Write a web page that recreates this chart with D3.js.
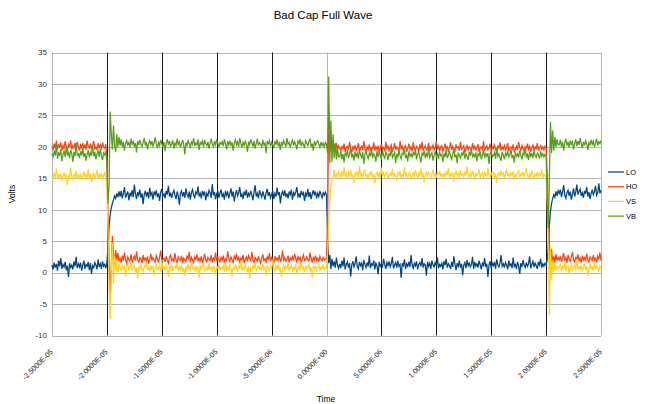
<!DOCTYPE html>
<html>
<head>
<meta charset="utf-8">
<script src="https://cdn.jsdelivr.net/npm/d3@7"></script>
<style>
  html, body { margin: 0; padding: 0; background: #fff; }
  svg { display: block; font-family: "Liberation Sans", Arial, sans-serif; }
</style>
</head>
<body>
<svg id="chart" width="647" height="404"></svg>
<script>
// Sampling grid of the capture (seconds)
const tStart = -25e-6;
const tStep = 0.1e-6;

// Channel voltages, one sample per tStep
const LO = [
  1.2, 0.5, 1.6, 0.8, 1.4, 0.3, 1.9, 1.0, 2.3, 0.6,
  1.3, 0.9, 1.7, 0.4, 1.1, -0.7, 1.5, 0.8, 1.2, 0.5,
  1.8, 1.0, 2.5, 0.7, 1.4, 0.9, 1.6, 0.3, 1.2, 1.9,
  0.6, 1.3, 1.0, 1.7, 0.4, 1.5, -0.2, 1.1, 0.8, 1.6,
  1.2, 0.5, 2.1, 0.9, 1.4, 0.6, 1.8, 1.0, 1.3, 0.7,
  1.5, 4.0, 7.5, 9.2, 10.3, 11.0, 11.6, 12.2, 11.8, 12.6, 12.0, 12.9,
  12.1, 13.0, 11.8, 12.6, 13.6, 11.9, 12.4, 12.9, 11.5, 12.7,
  12.2, 13.1, 12.0, 14.0, 12.5, 11.7, 12.8, 12.3, 13.2, 11.9,
  12.6, 10.9, 12.4, 13.0, 12.1, 12.8, 11.8, 13.5, 12.3, 12.7,
  11.6, 12.9, 12.4, 13.1, 12.0, 12.6, 11.4, 12.8, 13.3, 12.2,
  12.5, 11.8, 13.0, 12.4, 13.8, 12.1, 12.7, 11.9, 12.6, 13.1,
  12.3, 11.7, 12.9, 12.2, 10.8, 12.6, 13.0, 12.1, 12.8, 11.9,
  13.4, 12.4, 12.0, 12.9, 11.6, 12.7, 13.2, 12.3, 11.9, 12.8,
  12.5, 13.7, 12.1, 12.6, 11.8, 13.0, 12.4, 12.9, 11.5, 12.6,
  12.2, 13.1, 12.7, 11.9, 14.1, 12.3, 12.8, 11.7, 12.5, 13.0,
  11.9, 12.7, 13.2, 12.0, 12.5, 11.6, 13.0, 12.3, 12.8, 11.8,
  12.6, 13.4, 12.1, 12.9, 11.3, 12.4, 13.1, 12.2, 12.7, 13.6,
  12.0, 12.5, 11.7, 12.9, 12.3, 13.2, 11.9, 12.6, 12.2, 13.0,
  12.4, 11.5, 12.8, 13.9, 12.1, 12.6, 11.8, 13.1, 12.5, 12.0,
  12.9, 12.3, 11.6, 12.7, 13.3, 12.2, 12.8, 11.9, 12.4, 13.0,
  11.7, 12.6, 12.1, 13.5, 12.3, 12.8, 11.0, 12.5, 12.9, 12.2,
  13.1, 12.0, 12.6, 11.8, 12.9, 12.4, 13.2, 11.6, 12.7, 12.3,
  12.8, 13.6, 12.1, 12.5, 11.9, 13.0, 12.4, 12.7, 11.4, 12.6,
  12.2, 13.3, 12.0, 12.8, 11.7, 12.5, 13.1, 12.3, 12.9, 11.8,
  12.6, 12.1, 13.0, 12.4, 11.9, 12.7, 12.3, 12.8,
  12.4, 6.0, 1.5, 2.8, 0.6, 2.2, 1.0, 1.8, 0.8, 2.4, 1.2, 0.7,
  1.4, 0.7, 1.9, 1.0, 2.4, 0.5, 1.3, 1.7, 0.8, 1.5,
  -0.6, 1.2, 1.8, 0.9, 1.4, 2.6, 1.0, 0.6, 1.7, 1.1,
  1.5, 0.4, 2.0, 1.3, 0.8, 1.6, 1.0, 2.7, 0.7, 1.4,
  1.2, 1.9, 0.5, 1.5, 1.1, -0.3, 1.7, 1.0, 1.4, 0.8,
  2.2, 1.3, 0.6, 1.6, 1.1, 1.8, 0.9, 1.4, 2.5, 0.7,
  1.2, 1.6, 0.8, 1.9, 1.0, 1.3, -0.8, 1.5, 1.1, 2.1,
  0.6, 1.4, 1.0, 1.7, 0.9, 2.8, 1.2, 0.7, 1.5, 1.1,
  1.8, 0.5, 1.3, 1.6, 1.0, 2.3, 0.8, 1.4, 1.2, -0.5,
  1.7, 1.0, 1.5, 0.6, 1.9, 1.2, 0.9, 1.6, 1.1, 2.4,
  0.7, 1.3, 1.0, 1.5, 0.5, 1.8, 1.2, 2.2, 0.8, 1.4,
  1.1, 0.6, 1.7, 0.9, 2.6, 1.3, 0.4, 1.5, 1.0, 1.9,
  0.8, 1.4, -0.4, 1.2, 1.6, 0.7, 2.0, 1.1, 1.5, 0.9,
  1.3, 2.5, 0.6, 1.7, 1.0, 1.4, 0.8, 1.9, 1.2, 0.5,
  1.6, 1.0, 2.3, 0.9, 1.4, -0.7, 1.2, 1.8, 0.7, 1.5,
  1.1, 1.7, 0.6, 2.1, 1.3, 0.9, 1.5, 2.8, 1.0, 1.4,
  0.8, 1.6, 1.2, 0.5, 1.9, 1.1, 1.4, 0.7, 2.4, 1.0,
  1.3, 0.6, 1.7, 1.1, -0.2, 1.5, 0.9, 2.0, 1.2, 0.8,
  1.6, 1.0, 1.4, 2.6, 0.7, 1.3, 1.8, 0.9, 1.5, 1.1,
  0.6, 1.7, 1.2, 2.2, 0.8, 1.4, 1.0, 1.5,
  1.2, 2.0, 4.5, 7.5, 9.8, 11.0, 11.8, 12.4, 12.0, 12.9, 12.2, 13.0,
  12.6, 13.2, 12.0, 12.8, 13.9, 12.3, 11.8, 12.7, 13.1, 12.2,
  12.9, 11.6, 12.5, 13.4, 12.1, 12.8, 14.0, 12.4, 12.9, 13.3,
  12.2, 12.7, 11.9, 13.0, 12.5, 13.6, 12.1, 12.8, 11.7, 12.6,
  13.2, 12.4, 12.9, 13.8, 12.3, 12.7, 14.2, 12.6, 13.1
];

const HO = [
  20.1, 19.5, 20.5, 19.8, 21.0, 19.6, 20.3, 20.0, 20.7, 19.4,
  20.2, 19.7, 20.9, 20.0, 19.5, 20.4, 19.9, 21.0, 19.6, 20.2,
  19.8, 20.6, 19.5, 20.8, 20.0, 19.4, 20.3, 19.9, 20.6, 19.7,
  20.4, 19.5, 21.0, 20.1, 19.8, 20.5, 19.6, 20.2, 20.9, 19.7,
  20.0, 19.5, 20.6, 19.9, 20.3, 19.6, 20.7, 20.0, 19.8, 20.4,
  18.0, 9.0, 2.0, -3.8, 1.0, 5.8, 3.0, 1.2, 3.6, 2.0, 3.1, 1.8,
  2.3, 1.6, 2.7, 1.9, 3.2, 2.0, 1.5, 2.5, 2.1, 1.8,
  2.9, 1.6, 2.2, 2.6, 1.9, 3.4, 2.0, 1.7, 2.4, 2.2,
  1.5, 2.8, 2.0, 2.3, 1.8, 2.6, 1.4, 2.1, 3.0, 1.9,
  2.4, 2.0, 1.7, 2.7, 2.2, 1.6, 2.5, 3.5, 1.9, 2.1,
  2.3, 1.7, 2.6, 2.0, 1.5, 2.4, 2.8, 1.9, 2.2, 1.8,
  3.1, 2.0, 1.6, 2.5, 2.1, 1.9, 2.7, 1.5, 2.3, 2.0,
  1.8, 2.6, 2.2, 3.3, 1.7, 2.4, 2.0, 1.6, 2.5, 2.1,
  2.9, 1.8, 2.3, 1.9, 2.6, 1.5, 2.2, 3.0, 2.0, 1.7,
  2.4, 2.1, 1.9, 2.8, 1.6, 2.3, 2.0, 3.2, 1.8, 2.5,
  2.1, 1.7, 2.4, 2.0, 2.7, 1.6, 2.2, 1.9, 3.4, 2.3,
  1.8, 2.5, 2.0, 1.6, 2.6, 2.2, 3.0, 1.9, 2.4, 1.7,
  2.3, 2.0, 2.8, 1.5, 2.1, 2.5, 1.8, 2.7, 2.2, 1.9,
  3.3, 2.0, 1.6, 2.4, 2.1, 1.8, 2.6, 2.0, 1.5, 2.3,
  2.9, 1.9, 2.2, 1.7, 2.5, 2.0, 3.1, 1.8, 2.4, 2.1,
  1.6, 2.6, 2.0, 2.3, 1.9, 2.8, 1.7, 2.2, 3.5, 2.0,
  2.4, 1.8, 2.1, 2.7, 1.6, 2.3, 2.0, 2.5, 1.9, 3.0,
  2.2, 1.7, 2.6, 2.0, 2.4, 1.5, 2.3, 2.8, 1.9, 2.1,
  2.5, 2.0, 1.8, 3.2, 2.2, 1.6, 2.4, 2.0, 2.7, 1.9,
  2.3, 1.7, 2.6, 2.1, 1.9, 2.4, 2.0, 2.2,
  2.2, 8.0, 26.0, 22.0, 19.3, 21.0, 19.6, 20.4, 19.2, 20.6, 19.5, 20.2,
  19.8, 19.3, 20.2, 19.6, 20.5, 19.2, 19.9, 20.1, 19.5, 20.8,
  19.7, 19.1, 20.0, 19.6, 20.3, 19.4, 19.9, 20.6, 19.3, 19.8,
  20.1, 19.5, 20.9, 19.7, 19.2, 20.0, 19.6, 20.4, 19.3, 19.9,
  19.7, 20.7, 19.4, 20.0, 19.5, 20.2, 19.1, 19.8, 20.5, 19.6,
  19.9, 19.3, 20.8, 19.7, 20.1, 19.4, 19.9, 20.3, 19.2, 19.8,
  20.6, 19.5, 20.0, 19.7, 19.3, 20.9, 19.6, 20.1, 19.4, 19.9,
  20.2, 19.2, 19.8, 20.5, 19.6, 20.0, 19.3, 20.7, 19.7, 19.5,
  20.1, 19.8, 19.2, 20.4, 19.6, 20.8, 19.4, 19.9, 20.2, 19.5,
  19.7, 20.6, 19.3, 20.0, 19.8, 20.3, 19.5, 19.9, 20.9, 19.6,
  20.1, 19.4, 20.0, 20.2, 19.3, 19.8, 20.5, 19.6, 20.0, 19.2,
  19.9, 20.7, 19.5, 20.1, 19.7, 19.3, 20.4, 19.8, 20.0, 19.4,
  20.8, 19.6, 19.9, 20.2, 19.1, 19.7, 20.3, 19.5, 20.0, 19.8,
  19.3, 20.6, 19.7, 20.1, 19.5, 19.9, 20.4, 19.2, 19.8, 20.0,
  19.6, 20.9, 19.4, 19.9, 20.2, 19.5, 19.8, 20.5, 19.3, 20.0,
  19.7, 20.3, 19.6, 19.2, 20.1, 19.8, 20.7, 19.4, 20.0, 19.6,
  20.2, 19.5, 19.9, 20.6, 19.3, 19.8, 20.0, 19.6, 20.4, 19.1,
  19.7, 20.1, 19.5, 20.8, 19.9, 19.4, 20.2, 19.7, 19.3, 20.0,
  19.8, 20.5, 19.6, 20.1, 19.2, 19.9, 20.3, 19.5, 20.0, 19.7,
  20.6, 19.4, 19.9, 20.2, 19.6, 20.0, 19.5, 20.1,
  19.8, 16.0, 9.0, 4.6, 0.4, 3.8, 1.4, 2.6, 1.6, 3.0, 1.9, 2.4,
  2.0, 2.6, 1.7, 2.3, 3.1, 1.9, 2.4, 1.6, 2.8, 2.1,
  1.8, 2.5, 3.3, 2.0, 1.7, 2.4, 2.2, 2.9, 1.9, 2.3,
  1.6, 2.7, 2.0, 2.4, 1.8, 3.0, 2.1, 1.7, 2.5, 2.2,
  1.9, 2.8, 2.0, 2.3, 1.6, 2.6, 2.1, 3.2, 1.9
];

const VS = [
  15.4, 14.8, 15.9, 15.1, 16.6, 14.9, 15.5, 15.2, 15.8, 14.6,
  15.3, 16.0, 14.9, 15.6, 13.9, 15.4, 15.0, 16.7, 15.2, 14.8,
  15.7, 15.1, 16.2, 14.9, 15.5, 15.0, 15.8, 14.7, 15.4, 16.1,
  15.2, 15.6, 14.8, 16.5, 15.1, 15.7, 14.4, 15.3, 15.9, 15.0,
  15.5, 16.3, 14.9, 15.6, 15.2, 15.8, 14.7, 15.4, 16.0, 15.1,
  14.0, 6.0, -2.0, -7.4, 0.5, 4.8, -1.8, 2.6, 0.2, 2.0, -0.3, 1.4,
  0.9, 0.2, 1.3, 0.5, 1.1, -0.6, 0.8, 1.4, 0.3, 0.9,
  1.9, 0.4, 0.7, 1.2, 0.1, 0.8, -0.9, 1.0, 0.5, 1.3,
  0.6, 0.2, 1.1, 0.8, 1.7, 0.4, 0.9, 0.1, 1.2, 0.6,
  1.0, -0.4, 0.7, 1.4, 0.3, 0.8, 1.1, 0.2, 2.0, 0.6,
  0.9, 0.4, 1.2, 0.7, -0.7, 1.0, 0.5, 1.3, 0.2, 0.8,
  1.1, 0.6, 1.6, 0.3, 0.9, 0.5, 1.2, 0.1, 0.8, -0.5,
  1.0, 0.4, 1.3, 0.7, 0.2, 1.8, 0.6, 0.9, 0.3, 1.1,
  0.5, 0.8, -0.8, 1.2, 0.4, 0.9, 1.4, 0.2, 0.7, 1.0,
  0.3, 1.5, 0.6, 0.8, 0.1, 1.2, 0.5, -0.3, 0.9, 0.7,
  1.3, 0.4, 0.8, 0.6, 1.1, 0.2, 1.7, 0.5, 0.9, 0.3,
  1.2, 0.7, -0.6, 1.0, 0.4, 1.4, 0.8, 0.2, 1.1, 0.6,
  1.9, 0.3, 0.9, 0.5, 1.2, 0.7, 0.1, 1.0, -0.9, 0.8,
  0.4, 1.3, 0.6, 1.6, 0.2, 0.9, 1.1, 0.5, 0.8, 0.3,
  1.4, 0.6, 0.9, -0.4, 1.2, 0.7, 0.3, 1.0, 0.5, 2.0,
  0.8, 0.2, 1.1, 0.6, 1.3, 0.4, 0.9, -0.7, 0.7, 1.2,
  0.3, 1.0, 0.6, 1.5, 0.2, 0.8, 1.1, 0.4, 0.9, 0.5,
  1.3, -0.2, 0.7, 1.0, 0.3, 1.7, 0.6, 0.9, 0.1, 1.2,
  0.5, 0.8, 1.4, 0.2, 0.9, -0.8, 1.1, 0.6, 1.0, 0.4,
  0.8, 1.2, 0.3, 0.9, 0.6, 1.3, 0.5, 0.8,
  0.8, 3.0, 8.0, 11.5, 13.6, 14.6, 15.0, 16.4, 14.9, 15.8, 15.2, 16.1,
  15.6, 15.0, 16.1, 15.3, 16.8, 15.2, 15.7, 14.9, 15.9, 15.4,
  16.3, 15.1, 15.6, 14.3, 15.8, 15.5, 16.0, 15.2, 16.9, 15.4,
  15.7, 15.0, 15.9, 16.4, 15.3, 15.6, 14.8, 15.8, 15.5, 16.2,
  15.1, 15.7, 14.2, 15.6, 16.0, 15.3, 15.8, 15.0, 16.7, 15.4,
  15.9, 15.2, 15.6, 16.1, 14.9, 15.5, 15.8, 15.3, 16.5, 15.1,
  15.7, 15.4, 14.6, 15.9, 15.5, 16.2, 15.0, 15.6, 15.3, 16.8,
  15.4, 15.8, 15.1, 15.7, 16.0, 14.8, 15.5, 15.9, 15.2, 16.3,
  15.6, 15.0, 15.8, 15.4, 16.6, 15.3, 15.7, 14.4, 15.6, 15.9,
  15.2, 16.1, 15.5, 15.0, 15.8, 16.4, 15.3, 15.7, 15.1, 15.9,
  15.6, 16.2, 15.4, 15.7, 14.9, 15.8, 15.2, 16.0, 15.5, 16.6,
  15.1, 15.7, 15.3, 15.9, 14.5, 15.6, 16.1, 15.4, 15.8, 15.0,
  16.3, 15.5, 15.7, 15.2, 16.0, 15.4, 16.9, 15.6, 15.1, 15.8,
  15.3, 16.2, 15.5, 14.7, 15.9, 15.4, 15.7, 16.4, 15.2, 15.6,
  15.9, 15.0, 16.1, 15.5, 15.3, 16.7, 15.6, 15.2, 15.8, 15.4,
  16.0, 15.1, 15.7, 14.3, 15.6, 15.9, 15.3, 16.2, 15.5, 15.8,
  15.0, 15.6, 16.5, 15.4, 15.7, 15.2, 15.9, 15.5, 16.1, 14.8,
  15.6, 15.3, 15.8, 16.3, 15.1, 15.7, 15.4, 16.0, 15.2, 15.9,
  16.6, 15.5, 15.0, 15.8, 15.3, 16.1, 15.6, 14.9, 15.7, 15.4,
  16.0, 15.2, 15.8, 15.5, 16.4, 15.1, 15.6, 15.3,
  15.4, 11.0, 4.0, -6.8, 4.0, -1.2, 2.0, 0.1, 1.6, 0.3, 1.2, 0.6,
  0.8, 1.3, 0.3, 1.0, 0.5, 1.7, 0.2, 0.9, 1.2, -0.2,
  0.7, 1.4, 0.4, 0.8, 1.1, 0.3, 1.9, 0.6, 0.9, 0.5,
  1.2, 0.2, 0.8, 1.5, 0.4, 1.0, -0.5, 0.7, 1.3, 0.6,
  0.9, 0.3, 1.6, 0.5, 1.1, 0.8, 0.2, 1.0, 0.6
];

const VB = [
  18.9, 18.3, 19.4, 18.6, 20.5, 18.1, 19.0, 18.7, 19.6, 17.7,
  18.8, 19.3, 18.4, 20.1, 18.6, 19.1, 18.2, 19.5, 18.9, 17.6,
  19.2, 18.5, 20.6, 18.7, 18.9, 18.2, 19.3, 18.6, 19.8, 18.4,
  19.0, 17.8, 18.8, 19.5, 18.3, 19.1, 18.6, 20.3, 18.5, 19.2,
  18.0, 18.9, 19.4, 18.4, 19.7, 18.6, 17.9, 19.0, 18.7, 19.3,
  17.5, 11.0, 14.0, 25.6, 22.0, 19.6, 23.4, 20.2, 19.2, 22.0, 20.0, 21.6,
  20.2, 21.2, 20.0, 20.8, 19.4, 20.6, 21.0, 20.3, 20.7, 19.9,
  21.3, 20.4, 20.8, 20.1, 20.6, 19.1, 20.9, 20.3, 21.1, 20.5,
  20.0, 20.7, 21.4, 20.2, 20.8, 19.6, 20.5, 21.0, 20.3, 20.9,
  20.1, 20.6, 21.5, 20.4, 19.8, 20.7, 20.2, 21.1, 20.5, 20.0,
  20.8, 19.3, 20.6, 21.2, 20.3, 20.9, 20.1, 20.5, 21.0, 19.7,
  20.6, 20.2, 21.3, 20.4, 20.8, 19.9, 20.5, 21.1, 20.3, 18.8,
  20.7, 20.2, 21.0, 20.5, 19.8, 20.9, 20.4, 21.4, 20.1, 20.6,
  20.3, 21.2, 19.5, 20.7, 20.4, 20.9, 20.0, 21.1, 20.5, 20.2,
  20.8, 19.7, 20.6, 21.3, 20.4, 20.0, 20.9, 20.3, 21.0, 20.6,
  19.9, 20.7, 20.4, 20.8, 20.1, 21.2, 20.5, 19.6, 20.9, 20.3,
  21.0, 20.2, 20.7, 19.4, 20.6, 21.1, 20.3, 20.8, 20.0, 21.4,
  20.5, 19.9, 20.7, 20.2, 21.0, 20.4, 19.2, 20.8, 20.3, 21.2,
  20.6, 20.1, 20.9, 19.7, 20.5, 21.3, 20.2, 20.7, 20.4, 20.0,
  21.1, 20.3, 20.6, 19.0, 20.8, 20.5, 21.0, 20.1, 20.7, 20.3,
  19.8, 20.9, 20.4, 21.2, 20.2, 20.6, 19.5, 20.8, 20.3, 21.0,
  20.5, 20.0, 21.4, 20.4, 20.7, 19.9, 20.6, 21.1, 20.2, 20.8,
  20.3, 19.6, 20.9, 20.5, 21.2, 20.1, 20.7, 20.4, 19.8, 21.0,
  20.6, 20.2, 20.8, 21.3, 20.0, 20.5, 19.4, 20.9, 20.3, 20.7,
  21.0, 20.4, 19.9, 20.8, 20.2, 20.6, 20.0, 20.7,
  20.4, 19.0, 31.2, 17.4, 24.2, 17.6, 22.0, 18.2, 20.6, 18.0, 19.8, 18.4,
  18.4, 19.3, 18.0, 18.9, 17.5, 19.1, 18.6, 19.5, 18.2, 18.8,
  19.7, 18.3, 18.9, 17.8, 19.2, 18.5, 19.0, 18.1, 19.6, 18.7,
  18.3, 19.2, 17.3, 18.8, 19.4, 18.6, 18.1, 19.0, 18.5, 19.8,
  18.2, 18.9, 18.6, 17.6, 19.3, 18.4, 19.1, 18.7, 18.0, 19.5,
  18.6, 18.2, 19.2, 18.8, 17.9, 19.0, 18.5, 19.9, 18.3, 18.7,
  19.1, 17.4, 18.9, 18.4, 19.4, 18.6, 18.1, 19.0, 18.8, 19.6,
  18.2, 18.7, 17.7, 19.3, 18.5, 18.9, 18.3, 19.1, 18.6, 19.7,
  18.0, 18.8, 19.2, 18.4, 17.5, 19.0, 18.7, 19.4, 18.2, 18.9,
  18.5, 19.8, 18.3, 18.7, 19.1, 17.8, 18.6, 19.3, 18.4, 18.9,
  18.1, 19.2, 18.6, 18.8, 17.6, 19.0, 18.4, 19.5, 18.2, 18.7,
  19.3, 18.5, 18.0, 18.9, 19.6, 18.3, 18.8, 17.4, 19.1, 18.6,
  18.2, 19.0, 18.7, 19.4, 18.1, 18.9, 18.5, 17.9, 19.2, 18.6,
  19.7, 18.3, 18.8, 18.4, 19.1, 17.7, 18.9, 18.6, 19.3, 18.0,
  18.7, 19.5, 18.2, 18.9, 18.5, 19.0, 17.3, 18.8, 19.4, 18.4,
  18.6, 19.1, 18.1, 19.8, 18.5, 18.9, 18.3, 17.8, 19.2, 18.7,
  18.0, 19.0, 18.6, 19.3, 18.4, 18.8, 19.6, 18.2, 18.7, 17.5,
  19.1, 18.5, 18.9, 18.3, 19.4, 18.6, 18.1, 19.0, 18.7, 19.7,
  18.4, 18.8, 17.9, 19.2, 18.5, 18.9, 18.2, 19.5, 18.6, 18.3,
  19.0, 18.7, 18.1, 19.3, 18.5, 18.9, 18.4, 18.8,
  18.6, 12.0, 7.0, 15.0, 24.0, 19.0, 22.6, 19.4, 21.6, 20.0, 21.2, 20.3,
  20.3, 21.1, 20.0, 20.8, 19.4, 20.6, 21.3, 20.2, 20.7, 19.9,
  21.0, 20.4, 20.8, 19.6, 20.5, 21.2, 20.1, 20.9, 20.3, 21.4,
  20.6, 19.8, 20.8, 20.2, 21.0, 20.5, 19.5, 20.7, 20.3, 21.1,
  20.4, 20.9, 20.0, 20.6, 21.3, 20.2, 20.8, 20.5, 21.0
];

const seriesNames = ["LO", "HO", "VS", "VB"];
const seriesValues = [LO, HO, VS, VB];
const seriesColors = ["#004586", "#ff420e", "#ffd320", "#579d1c"];

const xTickValues = [-2.5e-5, -2.0e-5, -1.5e-5, -1.0e-5, -5.0e-6, 0, 5.0e-6, 1.0e-5, 1.5e-5, 2.0e-5, 2.5e-5];
const yTickValues = [-10, -5, 0, 5, 10, 15, 20, 25, 30, 35];

const titleText = "Bad Cap Full Wave";
const xTitle = "Time";
const yTitle = "Volts";

// ---- layout ----
const svg = d3.select("#chart");
const plot = { left: 52, right: 601, top: 52.5, bottom: 335.5 };

const x = d3.scaleLinear().domain([-2.5e-5, 2.5e-5]).range([plot.left, plot.right]);
const y = d3.scaleLinear().domain([-10, 35]).range([plot.bottom, plot.top]);

// Scientific label, e.g. -2.5000E-05
const sci = v => {
  const s = v.toExponential(4).toUpperCase();
  return s.replace(/E([+-])(\d)$/, "E$10$2");
};

// horizontal grid
svg.append("g")
  .selectAll("line")
  .data(yTickValues)
  .join("line")
  .attr("x1", plot.left).attr("x2", plot.right)
  .attr("y1", d => Math.round(y(d)) + 0.5).attr("y2", d => Math.round(y(d)) + 0.5)
  .attr("stroke", "#b3b3b3").attr("stroke-width", 1);

// vertical grid (zero line and frame edges stay light)
svg.append("g")
  .selectAll("line")
  .data(xTickValues)
  .join("line")
  .attr("x1", d => Math.round(x(d)) + 0.5).attr("x2", d => Math.round(x(d)) + 0.5)
  .attr("y1", plot.top).attr("y2", plot.bottom)
  .attr("stroke", d => (d === 0 || d === xTickValues[0] || d === xTickValues[xTickValues.length - 1]) ? "#b3b3b3" : "#1a1a1a")
  .attr("stroke-width", 1);

// y tick labels
svg.append("g")
  .selectAll("text")
  .data(yTickValues)
  .join("text")
  .attr("x", plot.left - 5)
  .attr("y", d => y(d))
  .attr("dy", "0.35em")
  .attr("text-anchor", "end")
  .attr("font-size", 8)
  .attr("fill", "#333")
  .text(d => d);

// x tick labels, rotated
svg.append("g")
  .selectAll("text")
  .data(xTickValues)
  .join("text")
  .attr("transform", d => `translate(${x(d) - 0.5},${plot.bottom + 15}) rotate(-45)`)
  .attr("dy", "0.35em")
  .attr("text-anchor", "end")
  .attr("font-size", 7.2)
  .attr("fill", "#222")
  .text(d => sci(d));

// traces
const line = d3.line()
  .x((d, i) => x(tStart + i * tStep))
  .y(d => y(d));

svg.append("g")
  .selectAll("path")
  .data(seriesValues)
  .join("path")
  .attr("d", d => line(d))
  .attr("fill", "none")
  .attr("stroke", (d, i) => seriesColors[i])
  .attr("stroke-width", 1.25);

// titles
svg.append("text")
  .attr("x", 323).attr("y", 19)
  .attr("text-anchor", "middle")
  .attr("font-size", 11.5)
  .attr("fill", "#000")
  .text(titleText);

svg.append("text")
  .attr("x", 326).attr("y", 402)
  .attr("text-anchor", "middle")
  .attr("font-size", 8.5)
  .attr("fill", "#000")
  .text(xTitle);

svg.append("text")
  .attr("transform", "translate(15,194) rotate(-90)")
  .attr("text-anchor", "middle")
  .attr("font-size", 8.5)
  .attr("fill", "#000")
  .text(yTitle);

// legend
const legend = svg.append("g")
  .selectAll("g")
  .data(seriesNames)
  .join("g")
  .attr("transform", (d, i) => `translate(608,${172 + i * 14.7})`);

legend.append("line")
  .attr("x1", 0).attr("x2", 16)
  .attr("stroke", (d, i) => seriesColors[i])
  .attr("stroke-width", 1.25);

legend.append("text")
  .attr("x", 18)
  .attr("dy", "0.35em")
  .attr("font-size", 7.5)
  .attr("fill", "#000")
  .text(d => d);
</script>
</body>
</html>
